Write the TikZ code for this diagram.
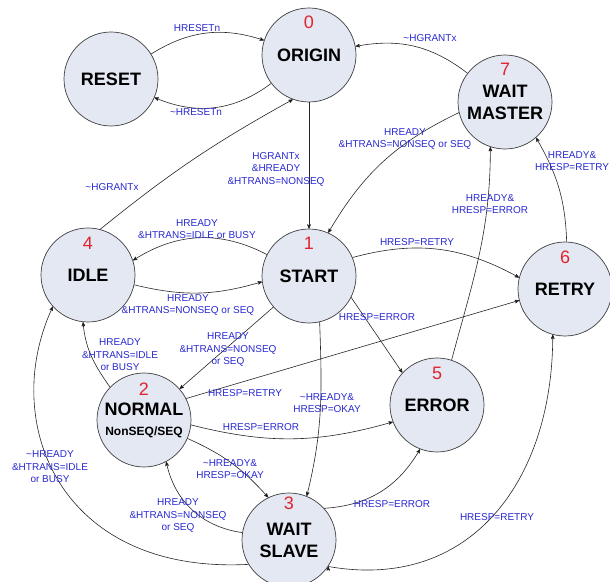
\documentclass[tikz,border=0pt]{standalone}
\usepackage{fontspec}
\setmainfont{Liberation Sans}
\usetikzlibrary{arrows}
\usetikzlibrary{positioning}
\definecolor{statefill}{RGB}{227,232,243}
\definecolor{lblblue}{RGB}{40,40,210}
\definecolor{numred}{RGB}{225,35,45}
\newcommand{\nt}{\textasciitilde}

\begin{document}
\begin{tikzpicture}[x=1pt,y=1pt,on grid,>=stealth',
		state/.style={circle,draw=black!75,line width=0.7pt,fill=statefill,minimum size=94pt,inner sep=0pt,align=center,font=\fontsize{18}{22}\selectfont\bfseries},
		num/.style={text=numred,inner sep=0pt,font=\fontsize{18}{18}\selectfont},
		lbl/.style={text=lblblue,align=center,font=\fontsize{10}{12.5}\selectfont},
		trans/.style={->,draw=black!85,line width=0.6pt}]
		\useasboundingbox (0,0) rectangle (610,581);

		\node[state]  (origin) at (309,526) {ORIGIN};
		\node[state]  (reset)  at (111,502) {RESET};
		\node[state]  (waitm)  at (505,479) {WAIT\\MASTER};
		\node[state]  (idle)   at (88,306)  {IDLE};
		\node[state]  (start)  at (309,305) {START};
		\node[state]  (retry)  at (565,292) {RETRY};
		\node[state]  (error)  at (437,176) {ERROR};
		\node[state]  (normal) at (144,161) {NORMAL\\[-2pt]{\fontsize{12}{14}\selectfont NonSEQ/SEQ}};
		\node[state]  (waits)  at (289,41)  {WAIT\\SLAVE};

		\node[num] (n0) at ([yshift=33pt]origin.center) {0};
		\node[num] (n1) at ([yshift=33pt]start.center)  {1};
		\node[num] (n2) at ([yshift=31pt]normal.center) {2};
		\node[num] (n3) at ([yshift=37pt]waits.center)  {3};
		\node[num] (n4) at ([yshift=32pt]idle.center)   {4};
		\node[num] (n5) at ([yshift=32pt]error.center)  {5};
		\node[num] (n6) at ([yshift=32pt]retry.center)  {6};
		\node[num] (n7) at ([yshift=33pt]waitm.center)  {7};

		\path[trans]
		(reset) edge[bend left=25] (origin)
		(origin) edge[bend left=30] (reset)
		(waitm) edge[bend right=24] (origin)
		(idle.75) edge[bend left=5] (origin.250)
		(origin) edge (start)
		(waitm.193) edge[bend right=17] (start.66)
		(error.72) edge[out=75,in=270] (waitm.252)
		(retry.88) edge[out=92,in=300] (waitm.311)
		(start.153) edge[bend right=30] (idle.18)
		(idle.348) edge[bend right=15] (start.187)
		(start.23) edge[bend left=22] (retry.166)
		(start.333) edge (error.137)
		(start) edge (normal)
		(normal.27) edge (retry.194)
		(normal.354) edge[bend right=15] (error.201)
		(normal.337) edge[bend left=12] (waits.116)
		(waits.171) edge[bend left=35] (normal.298)
		(normal.136) edge[out=125,in=275] (idle.264)
		(waits.211) edge[out=183,in=245,out looseness=1.5,in looseness=1] (idle.222)
		(start.283) edge[out=272,in=76] (waits.68)
		(waits.42) edge[bend right=28] (error.249)
		(waits.326) edge[out=350,in=270,looseness=1.15] (retry.255);

		\node[lbl] (lresetin)  at (197,553) {HRESETn};
		\node[lbl] (lresetout) at (196,469) {\nt HRESETn};
		\node[lbl] (lwmorg)    at (430,543) {\nt HGRANTx};
		\node[lbl] (lidleorg)  at (112,394) {\nt HGRANTx};
		\node[lbl] (lorgstart) at (276,412) {HGRANTx\\\&HREADY\\\&HTRANS=NONSEQ};
		\node[lbl] (lwmstart)  at (405,442) {HREADY\\\&HTRANS=NONSEQ or SEQ};
		\node[lbl] (lerrwm)    at (490,377) {HREADY\&\\HRESP=ERROR};
		\node[lbl] (lretrywm)  at (572,420) {HREADY\&\\HRESP=RETRY};
		\node[lbl] (lstartidle) at (197,352) {HREADY\\\&HTRANS=IDLE or BUSY};
		\node[lbl] (lidlestart) at (188,276) {HREADY\\\&HTRANS=NONSEQ or SEQ};
		\node[lbl] (lstartretry) at (417,339) {HRESP=RETRY};
		\node[lbl] (lstarterr) at (377,264) {HRESP=ERROR};
		\node[lbl] (lstartnorm) at (228,231) {HREADY\\\&HTRANS=NONSEQ\\or SEQ};
		\node[lbl] (lnormretry) at (245,188) {HRESP=RETRY};
		\node[lbl] (lnormerr)  at (261,154) {HRESP=ERROR};
		\node[lbl] (lnormws)   at (230,112) {\nt HREADY\&\\HRESP=OKAY};
		\node[lbl] (lwsnorm)   at (178,65)  {HREADY\\\&HTRANS=NONSEQ\\or SEQ};
		\node[lbl] (lnormidle) at (120,226) {HREADY\\\&HTRANS=IDLE\\or BUSY};
		\node[lbl] (lwsidle)   at (50,114)  {\nt HREADY\\\&HTRANS=IDLE\\or BUSY};
		\node[lbl] (lstartws)  at (327,178) {\nt HREADY\&\\HRESP=OKAY};
		\node[lbl] (lwserr)    at (392,77)  {HRESP=ERROR};
		\node[lbl] (lwsretry)  at (497,64)  {HRESP=RETRY};
\end{tikzpicture}
\end{document}
